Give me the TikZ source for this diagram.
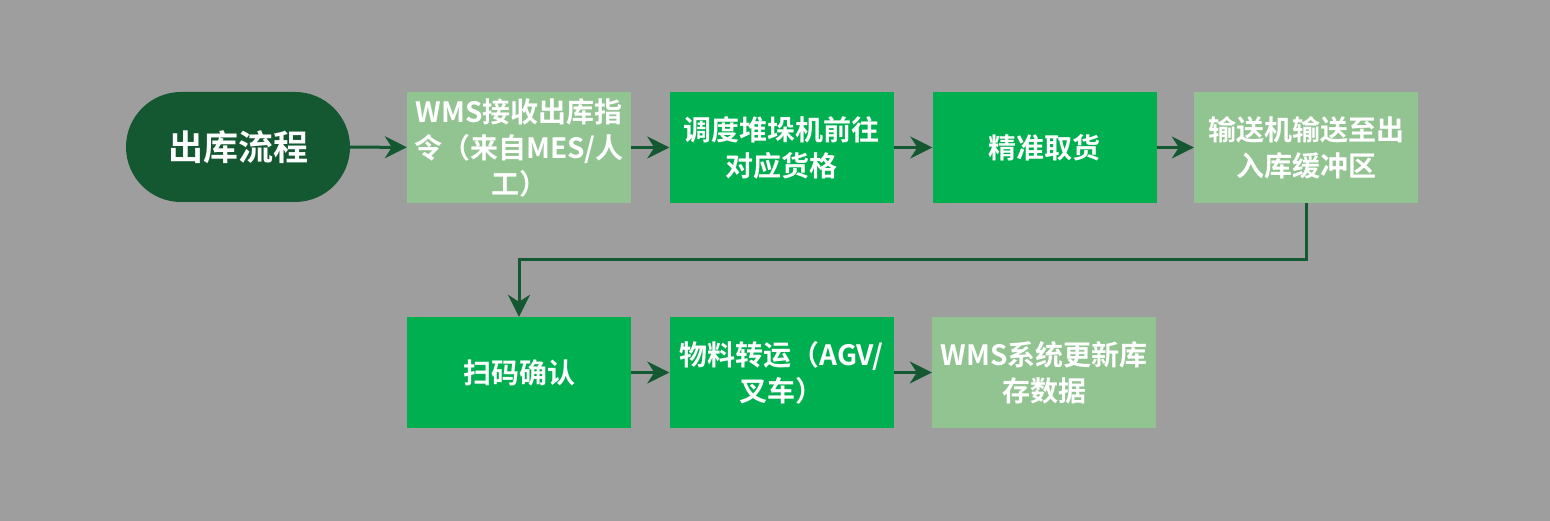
\documentclass[tikz,border=0pt]{standalone}
\usepackage{fontspec}
\newfontfamily\cjk{Noto Sans CJK SC}[BoldFont={Noto Sans CJK SC Bold}]
\usetikzlibrary{arrows.meta}
\definecolor{bg}{RGB}{158,158,158}
\definecolor{dkgreen}{RGB}{20,88,50}
\definecolor{brgreen}{RGB}{0,176,80}
\definecolor{ltgreen}{RGB}{146,196,146}
\tikzset{
  stepbox/.style={minimum width=224pt, minimum height=111pt, inner sep=0pt, align=center,
    text=white, font=\cjk\bfseries\fontsize{28}{36}\selectfont},
  brbox/.style={stepbox, fill=brgreen},
  ltbox/.style={stepbox, fill=ltgreen},
  startbox/.style={fill=dkgreen, rounded corners=55pt, minimum width=224pt, minimum height=110pt,
    inner sep=0pt, text=white, font=\cjk\bfseries\fontsize{35}{42}\selectfont},
  conn/.style={draw=dkgreen, line width=3pt, -{Stealth[length=22pt, width=22pt, inset=7pt]}}
}
\begin{document}
\begin{tikzpicture}[x=1pt,y=-1pt]
\fill[bg] (0,0) rectangle (1550,521);
\useasboundingbox (0,0) rectangle (1550,521);
\node[startbox] (s) at (238,147) {出库流程};
\node[ltbox] (b1) at (519,147.5) {WMS接收出库指\\令（来自MES/人\\工）};
\node[brbox] (b2) at (781.5,147.5) {调度堆垛机前往\\对应货格};
\node[brbox] (b3) at (1044.5,147.5) {精准取货};
\node[ltbox] (b4) at (1306,147.5) {输送机输送至出\\入库缓冲区};
\node[brbox] (b5) at (519,372.5) {扫码确认};
\node[brbox] (b6) at (781.5,372.5) {物料转运（AGV/\\叉车）};
\node[ltbox] (b7) at (1044,372.5) {WMS系统更新库\\存数据};
\draw[conn] (s) -- (b1);
\draw[conn] (b1) -- (b2);
\draw[conn] (b2) -- (b3);
\draw[conn] (b3) -- (b4);
\coordinate (t1) at (1306,260);
\coordinate (t2) at (519,260);
\draw[conn] (b4.south) -- (t1) -- (t2) -- (b5.north);
\draw[conn] (b5) -- (b6);
\draw[conn] (b6) -- (b7);
\end{tikzpicture}
\end{document}
